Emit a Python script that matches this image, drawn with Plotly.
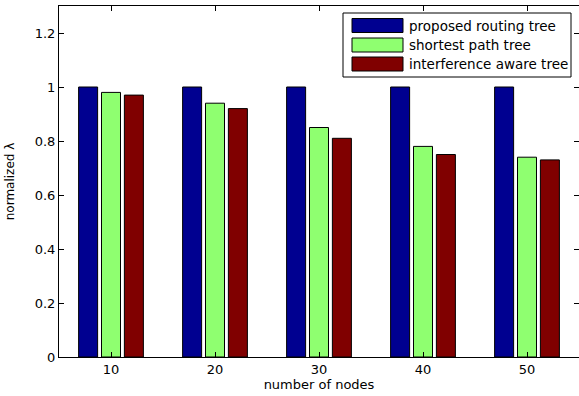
import plotly.graph_objects as go

nodes = [10, 20, 30, 40, 50]
proposed = [1.0, 1.0, 1.0, 1.0, 1.0]
shortest = [0.98, 0.94, 0.85, 0.78, 0.74]
interference = [0.97, 0.92, 0.81, 0.75, 0.73]
names = ["proposed routing tree", "shortest path tree", "interference aware tree"]
colors = ["#000090", "#8FFF70", "#800000"]
series = [proposed, shortest, interference]
yticks = [0, 0.2, 0.4, 0.6, 0.8, 1.0, 1.2]
ytext = ["0", "0.2", "0.4", "0.6", "0.8", "1", "1.2"]

FONT = "DejaVu Sans"
fig = go.Figure()
for name, col, vals in zip(names, colors, series):
    fig.add_trace(go.Bar(x=nodes, y=vals, name=name, marker=dict(color=col, line=dict(color="black", width=1)),
                         showlegend=False))

W, H = 579, 396
L, R, T, B = 59, 0, 6, 39
pw, ph = W - L - R, H - T - B

def px(x):
    return (x - L) / pw

def py(y):
    return (H - B - y) / ph

shapes = [dict(type="rect", xref="paper", yref="paper", x0=px(343), x1=px(571), y0=py(77), y1=py(13),
               line=dict(color="black", width=1), fillcolor="white", layer="above")]
annotations = []
row_y = [25.5, 45, 64]
for name, col, ry in zip(names, colors, row_y):
    shapes.append(dict(type="rect", xref="paper", yref="paper", x0=px(352), x1=px(403), y0=py(ry + 7), y1=py(ry - 7),
                       line=dict(color="black", width=1), fillcolor=col, layer="above"))
    annotations.append(dict(xref="paper", yref="paper", x=px(407), y=py(ry), text=name, showarrow=False,
                            xanchor="left", yanchor="middle", font=dict(family=FONT, size=13.5, color="black")))

fig.update_layout(
    width=W, height=H, margin=dict(l=L, r=R, t=T, b=B, autoexpand=False),
    paper_bgcolor="white", plot_bgcolor="white",
    barmode="group", bargap=0.34, bargroupgap=0.17,
    font=dict(family=FONT, size=13, color="black"),
    shapes=shapes, annotations=annotations,
    xaxis=dict(range=[5, 55], tickvals=nodes, ticks="inside", ticklen=5, tickcolor="black",
               showline=True, linecolor="black", linewidth=1, mirror="ticks", showgrid=False, zeroline=False,
               title=dict(text="number of nodes", standoff=2, font=dict(family=FONT, size=13)),
               tickfont=dict(family=FONT, size=13), automargin=False),
    yaxis=dict(range=[0, 1.3], tickvals=yticks, ticktext=ytext, ticks="inside", ticklen=5, tickcolor="black",
               showline=True, linecolor="black", linewidth=1, mirror="ticks", showgrid=False, zeroline=False,
               title=dict(text="normalized λ", standoff=17, font=dict(family=FONT, size=12)),
               tickfont=dict(family=FONT, size=13), automargin=False),
)
fig.write_html("out.html", config={"displayModeBar": False},
               post_script="document.body.style.margin='0';document.body.style.overflow='hidden';")
